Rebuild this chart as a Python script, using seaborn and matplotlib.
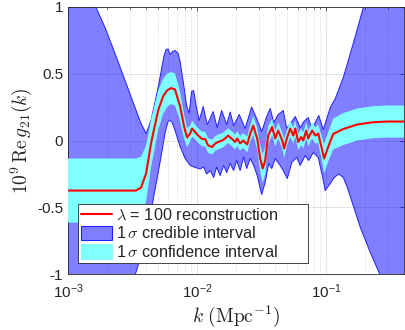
import numpy as np
import matplotlib
matplotlib.use("Agg")
import matplotlib.pyplot as plt
import seaborn as sns
from matplotlib.ticker import FixedLocator, LogLocator, NullFormatter
from matplotlib.lines import Line2D
from matplotlib.patches import Patch

# ---- data ----
# reconstruction (red line): log10 k and value
line_logk = [-3.000, -2.473, -2.434, -2.395, -2.357, -2.302, -2.264, -2.233, -2.202, -2.171,
             -2.132, -2.101, -2.078, -2.054, -2.039, -2.016, -1.992, -1.961, -1.938, -1.915,
             -1.884, -1.860, -1.837, -1.806, -1.783, -1.760, -1.729, -1.705, -1.690, -1.667,
             -1.643, -1.612, -1.589, -1.566, -1.535, -1.512, -1.492, -1.473, -1.450, -1.419,
             -1.395, -1.372, -1.341, -1.326, -1.302, -1.279, -1.256, -1.240, -1.217, -1.194,
             -1.178, -1.155, -1.140, -1.109, -1.085, -1.062, -1.031, -1.016, -0.984, -0.946,
             -0.868, -0.760, -0.636, -0.527, -0.395]
line_val = [-0.375, -0.375, -0.352, -0.247, -0.022, 0.225, 0.330, 0.375, 0.393, 0.382,
            0.255, 0.105, 0.022, 0.052, 0.090, 0.064, 0.037, 0.011, 0.011, -0.037,
            -0.049, -0.022, -0.011, 0.000, 0.015, 0.037, 0.011, -0.011, 0.015, -0.022,
            0.000, -0.030, 0.052, 0.112, 0.015, -0.135, -0.210, -0.150, 0.037, 0.101,
            0.015, 0.075, 0.000, -0.060, 0.026, 0.090, 0.037, 0.090, -0.011, 0.026,
            0.000, 0.075, 0.015, 0.075, 0.037, 0.052, -0.075, -0.135, -0.045, 0.049,
            0.086, 0.120, 0.137, 0.142, 0.142]
# half width of the 1-sigma confidence interval at the same k
conf_halfwidth = [0.24, 0.24, 0.23, 0.21, 0.18, 0.15, 0.13, 0.125, 0.12, 0.12,
                  0.11, 0.09, 0.07, 0.06, 0.06, 0.055, 0.055, 0.055, 0.055, 0.055,
                  0.055, 0.055, 0.055, 0.055, 0.055, 0.055, 0.055, 0.055, 0.055, 0.055,
                  0.055, 0.06, 0.06, 0.07, 0.08, 0.10, 0.11, 0.10, 0.07, 0.06,
                  0.06, 0.06, 0.06, 0.07, 0.06, 0.06, 0.06, 0.06, 0.06, 0.06,
                  0.06, 0.06, 0.06, 0.06, 0.06, 0.07, 0.09, 0.11, 0.11, 0.115,
                  0.12, 0.12, 0.12, 0.12, 0.12]

# credible interval upper edge
cred_up_logk = [-3.000, -2.783, -2.713, -2.636, -2.558, -2.481, -2.434, -2.395, -2.357, -2.302,
                -2.256, -2.240, -2.225, -2.209, -2.190, -2.171, -2.147, -2.132, -2.109, -2.081,
                -2.062, -2.043, -2.027, -2.004, -1.984, -1.953, -1.922, -1.899, -1.876, -1.845,
                -1.810, -1.771, -1.744, -1.717, -1.674, -1.628, -1.578, -1.539, -1.500, -1.461,
                -1.434, -1.407, -1.372, -1.333, -1.306, -1.267, -1.240, -1.202, -1.174, -1.140,
                -1.112, -1.085, -1.058, -1.023, -0.969, -0.930, -0.868, -0.791, -0.713, -0.643,
                -0.395]
cred_up_val = [1.45, 0.996, 0.846, 0.652, 0.449, 0.247, 0.127, 0.052, 0.150, 0.397,
               0.637, 0.682, 0.685, 0.644, 0.667, 0.674, 0.652, 0.592, 0.449, 0.262,
               0.202, 0.367, 0.375, 0.240, 0.150, 0.255, 0.120, 0.165, 0.217, 0.097,
               0.225, 0.120, 0.213, 0.112, 0.195, 0.090, 0.251, 0.165, 0.067, 0.180,
               0.240, 0.135, 0.195, 0.225, 0.090, 0.142, 0.180, 0.097, 0.142, 0.172,
               0.090, 0.135, 0.187, 0.082, 0.247, 0.315, 0.472, 0.727, 0.996, 1.236,
               1.95]
# credible interval lower edge
cred_lo_logk = [-3.000, -2.597, -2.481, -2.434, -2.388, -2.349, -2.310, -2.271, -2.248, -2.225,
                -2.209, -2.194, -2.171, -2.132, -2.093, -2.054, -2.016, -1.977, -1.950, -1.926,
                -1.899, -1.872, -1.849, -1.822, -1.795, -1.771, -1.744, -1.717, -1.694, -1.667,
                -1.640, -1.616, -1.589, -1.562, -1.535, -1.500, -1.473, -1.446, -1.422, -1.395,
                -1.357, -1.333, -1.302, -1.267, -1.229, -1.202, -1.163, -1.136, -1.101, -1.062,
                -1.031, -1.008, -0.969, -0.938, -0.903, -0.868, -0.837, -0.791, -0.736, -0.659,
                -0.581, -0.395]
cred_lo_val = [-2.0, -1.42, -1.011, -0.861, -0.697, -0.487, -0.285, -0.075, 0.060, 0.142,
               0.150, 0.135, 0.075, -0.045, -0.135, -0.187, -0.202, -0.213, -0.199, -0.251,
               -0.225, -0.277, -0.199, -0.262, -0.187, -0.240, -0.172, -0.225, -0.150, -0.225,
               -0.124, -0.210, -0.135, -0.187, -0.262, -0.404, -0.315, -0.172, -0.210, -0.135,
               -0.187, -0.225, -0.285, -0.165, -0.127, -0.187, -0.112, -0.150, -0.090, -0.127,
               -0.262, -0.375, -0.322, -0.277, -0.251, -0.277, -0.352, -0.487, -0.652, -0.839,
               -1.011, -1.42]

y_ticks = [-1, -0.5, 0, 0.5, 1]
y_ticklabels = ["-1", "-0.5", "0", "0.5", "1"]
legend_labels = [r"$\lambda$ = 100 reconstruction",
                 r"1$\,\sigma$ credible interval",
                 r"1$\,\sigma$ confidence interval"]

# ---- styling ----
sns.set_theme(style="white")
plt.rcParams["font.family"] = ["Liberation Sans", "DejaVu Sans"]
plt.rcParams["mathtext.fontset"] = "cm"
plt.rcParams["axes.unicode_minus"] = False
plt.rcParams["xtick.direction"] = "in"
plt.rcParams["ytick.direction"] = "in"

fig = plt.figure(figsize=(4.05, 3.30), dpi=100)
ax = fig.add_axes([68 / 405, 56 / 330, 336 / 405, 267 / 330])

k_line = 10 ** np.array(line_logk)
g_line = np.array(line_val)
hw = np.array(conf_halfwidth)
k_up = 10 ** np.array(cred_up_logk)
k_lo = 10 ** np.array(cred_lo_logk)

ax.set_xscale("log")

# credible band (polygon)
ax.fill(np.concatenate([k_up, k_lo[::-1]]),
        np.concatenate([cred_up_val, cred_lo_val[::-1]]),
        facecolor="#0000ff", alpha=0.5, edgecolor="none", zorder=2)
ax.plot(k_up, cred_up_val, color="#2020ff", lw=0.7, zorder=2.1)
ax.plot(k_lo, cred_lo_val, color="#2020ff", lw=0.7, zorder=2.1)

# confidence band
ax.fill_between(k_line, g_line - hw, g_line + hw, facecolor="#80ffff",
                edgecolor="none", zorder=3)

# reconstruction line
sns.lineplot(x=k_line, y=g_line, ax=ax, color="#ff0000", lw=1.5, zorder=4,
             estimator=None, sort=False)

ax.set_xlim(1e-3, 0.4)
ax.set_ylim(-1, 1)
ax.yaxis.set_major_locator(FixedLocator(y_ticks))
ax.set_yticklabels(y_ticklabels)
ax.xaxis.set_major_locator(LogLocator(base=10, numticks=10))
ax.xaxis.set_minor_locator(LogLocator(base=10, subs=np.arange(2, 10), numticks=20))
ax.xaxis.set_minor_formatter(NullFormatter())

ax.grid(True, which="major", axis="y", color="#dcdcdc", lw=0.6, zorder=0)
ax.grid(True, which="major", axis="x", color="#dcdcdc", lw=0.6, zorder=0)
ax.grid(True, which="minor", axis="x", color="#c8c8c8", lw=0.6, ls=(0, (1, 2)), zorder=0)
ax.set_axisbelow(True)

ax.tick_params(axis="both", which="both", top=True, right=True, direction="in",
               colors="#262626", labelcolor="#262626")
ax.tick_params(axis="both", which="major", length=3, width=0.5, labelsize=11)
ax.tick_params(axis="x", which="minor", length=1.5, width=0.5)
ax.tick_params(axis="x", which="major", pad=6)
for s in ax.spines.values():
    s.set_color("#262626")
    s.set_linewidth(0.6)
    s.set_visible(True)

ax.set_xlabel(r"$k\ (\mathrm{Mpc}^{-1})$", fontsize=14, labelpad=2, color="#262626")
ax.set_ylabel(r"$10^9\,\mathrm{Re}\,g_{21}(k)$", fontsize=14, labelpad=2, color="#262626")

handles = [Line2D([0], [0], color="#ff0000", lw=1.5),
           Patch(facecolor="#8080ff", edgecolor="#2020ff", lw=0.8),
           Patch(facecolor="#80ffff", edgecolor="#80ffff", lw=0.8)]
leg = ax.legend(handles, legend_labels, loc="lower left",
                bbox_to_anchor=(0.03, 0.041, 0.685, 0.2), mode="expand",
                borderaxespad=0, fontsize=11.7, frameon=True, fancybox=False,
                edgecolor="#262626", framealpha=1, handlelength=1.9, handleheight=1.0,
                handletextpad=0.25, labelspacing=0.15, borderpad=0.2)
leg.get_frame().set_linewidth(0.6)

fig.savefig("out.png", dpi=100)
